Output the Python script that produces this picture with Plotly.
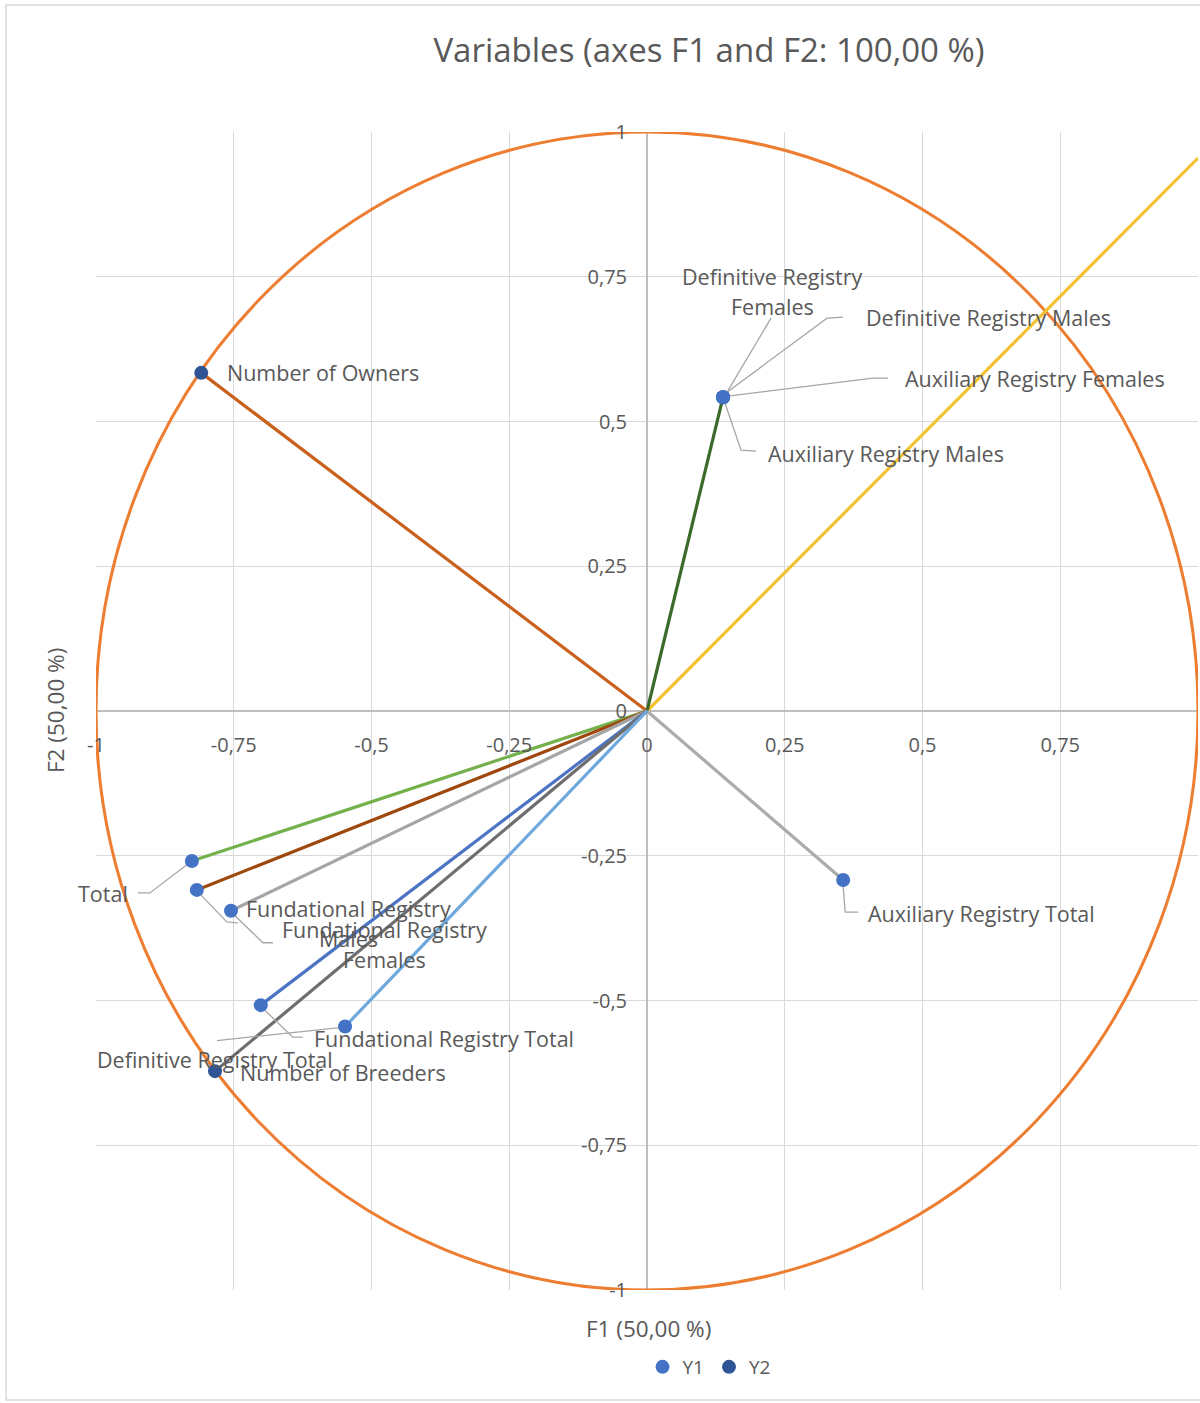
import plotly.graph_objects as go

# ---- Correlation circle data (F1, F2 coordinates) ----
variables = [
    "Number of Owners",
    "Definitive Registry Females",
    "Definitive Registry Males",
    "Auxiliary Registry Females",
    "Auxiliary Registry Males",
    "Auxiliary Registry Total",
    "Total",
    "Fundational Registry Males",
    "Fundational Registry Females",
    "Fundational Registry Total",
    "Definitive Registry Total",
    "Number of Breeders",
]
f1 = [-0.809, 0.138, 0.138, 0.138, 0.138, 0.356, -0.826, -0.817, -0.755, -0.701, -0.548, -0.784]
f2 = [0.584, 0.542, 0.542, 0.542, 0.542, -0.292, -0.259, -0.309, -0.345, -0.508, -0.545, -0.622]
group = ["Y2", "Y1", "Y1", "Y1", "Y1", "Y1", "Y1", "Y1", "Y1", "Y1", "Y1", "Y2"]

# vector from the origin drawn for each variable (one extra vector leaves the frame)
vector_names = ["Number of Owners", "Definitive Registry Females", "Auxiliary Registry Total",
                "Total", "Fundational Registry Males", "Fundational Registry Females",
                "Fundational Registry Total", "Number of Breeders", "Definitive Registry Total"]
vector_colors = ["#C9601C", "#3B6A2A", "#ABABAB", "#74B04C", "#9E480E", "#A5A5A5",
                 "#4C74C4", "#6E6E6E", "#6FA8DC"]
extra_vector = (1.0, 0.955)
extra_color = "#F2C232"

tick_vals = [-1, -0.75, -0.5, -0.25, 0, 0.25, 0.5, 0.75, 1]
tick_text = ["-1", "-0,75", "-0,5", "-0,25", "0", "0,25", "0,5", "0,75", "1"]

# ---- layout geometry ----
W, H = 1200, 1403
ML, MR, MT, MB = 96, 2, 132, 113
PW, PH = W - ML - MR, H - MT - MB
SX, SY = PW / 2.0, PH / 2.0          # pixels per unit

def dx(p):
    return p / SX

def dy(p):
    return -p / SY

# label placement: (pixel offset of label anchor, anchor side, leader path offsets)
label_layout = {
    "Number of Owners": ((24, 0), "left", []),
    "Definitive Registry Females": ((49, -106), "center", [(4, -5), (48, -79)]),
    "Definitive Registry Males": ((141, -80), "left", [(4, -5), (104, -79), (120, -80)]),
    "Auxiliary Registry Females": ((180, -19), "left", [(5, -1), (150, -19), (165, -19)]),
    "Auxiliary Registry Males": ((43, 56), "left", [(2, 6), (18, 53), (33, 54)]),
    "Auxiliary Registry Total": ((23, 33), "left", [(0, 6), (2, 32), (15, 32)]),
    "Total": ((-62, 33), "right", [(-4, 3), (-42, 32), (-54, 32)]),
    "Fundational Registry Males": ((152, 34), "center", [(3, 4), (30, 32), (41, 33)]),
    "Fundational Registry Females": ((153, 34), "center", [(3, 4), (32, 32), (42, 32)]),
    "Fundational Registry Total": ((51, 33), "left", [(3, 4), (32, 32), (42, 32)]),
    "Definitive Registry Total": ((-130, 33), "center", [(-5, 1), (-113, 13), (-128, 14)]),
    "Number of Breeders": ((23, 1), "left", []),
}
label_lines = {
    "Definitive Registry Females": ["Definitive Registry", "Females"],
    "Fundational Registry Males": ["Fundational Registry", "Males"],
    "Fundational Registry Females": ["Fundational Registry", "Females"],
}

TEXT = "#595959"
FONT = "Open Sans"

fig = go.Figure()

# vectors from the origin
lookup = {v: (a, b) for v, a, b in zip(variables, f1, f2)}
fig.add_trace(go.Scatter(x=[0, extra_vector[0]], y=[0, extra_vector[1]], mode="lines",
                         line=dict(color=extra_color, width=3.2), showlegend=False,
                         hoverinfo="skip"))
for name, col in zip(vector_names, vector_colors):
    a, b = lookup[name]
    fig.add_trace(go.Scatter(x=[0, a], y=[0, b], mode="lines",
                             line=dict(color=col, width=3.2), showlegend=False,
                             hoverinfo="skip"))

# leader lines
lx, ly = [], []
for name, a, b in zip(variables, f1, f2):
    path = label_layout[name][2]
    if not path:
        continue
    for ox, oy in path:
        lx.append(a + dx(ox))
        ly.append(b + dy(oy))
    lx.append(None)
    ly.append(None)
fig.add_trace(go.Scatter(x=lx, y=ly, mode="lines", line=dict(color="#A6A6A6", width=1.3),
                         showlegend=False, hoverinfo="skip"))

# points, one trace per group
for g, col in [("Y1", "#4472C4"), ("Y2", "#2F5597")]:
    xs = [a for a, gg in zip(f1, group) if gg == g]
    ys = [b for b, gg in zip(f2, group) if gg == g]
    ns = [v for v, gg in zip(variables, group) if gg == g]
    fig.add_trace(go.Scatter(x=xs, y=ys, mode="markers", name=g, text=ns,
                             marker=dict(color=col, size=14)))

# data labels
for name, a, b in zip(variables, f1, f2):
    (ox, oy), side, _ = label_layout[name]
    lines = label_lines.get(name, [name])
    n = len(lines)
    for i, line in enumerate(lines):
        off = oy + (i - (n - 1) / 2.0) * 30
        fig.add_annotation(x=a, y=b, xref="x", yref="y", text=line, showarrow=False,
                           xshift=ox, yshift=-off, xanchor=side, yanchor="middle",
                           font=dict(family=FONT, size=21.5, color=TEXT))

# unit circle
fig.add_shape(type="circle", xref="x", yref="y", x0=-1, y0=-1, x1=1, y1=1,
              line=dict(color="#ED7D31", width=3), layer="between")

# chart frame
fig.add_shape(type="rect", xref="paper", yref="paper",
              x0=(6 - ML) / PW, x1=1.03, y0=-(1400 - (H - MB)) / PH, y1=((H - MB) - 5) / PH,
              line=dict(color="#D9D9D9", width=1.5), layer="below")

axis_common = dict(range=[-1, 1], tickvals=tick_vals, ticktext=tick_text,
                   showgrid=True, gridcolor="#D9D9D9", gridwidth=1.3,
                   zeroline=True, zerolinecolor="#BFBFBF", zerolinewidth=1.6,
                   showline=False, ticks="", anchor="free", position=0.5,
                   tickfont=dict(family=FONT, size=20, color=TEXT),
                   fixedrange=True)

fig.update_layout(
    width=W, height=H,
    margin=dict(l=ML, r=MR, t=MT, b=MB),
    paper_bgcolor="white", plot_bgcolor="white",
    xaxis=dict(**axis_common, ticklabelstandoff=20),
    yaxis=dict(**axis_common, ticklabelstandoff=20),
    title=dict(text="Variables (axes F1 and F2: 100,00 %)", x=709 / W, xanchor="center",
               y=1 - 50 / H, yanchor="middle",
               font=dict(family=FONT, size=33, color=TEXT)),
    legend=dict(orientation="h", x=(709 - ML) / PW, xanchor="center",
                y=-(1367 - (H - MB)) / PH, yanchor="middle",
                font=dict(family=FONT, size=19, color=TEXT), itemwidth=30,
                bgcolor="rgba(0,0,0,0)"),
    showlegend=True,
)

fig.add_annotation(text="F1 (50,00 %)", xref="paper", yref="paper", x=(648 - ML) / PW,
                   y=-(1328 - (H - MB)) / PH, showarrow=False, xanchor="center",
                   yanchor="middle", font=dict(family=FONT, size=22.5, color=TEXT))
fig.add_annotation(text="F2 (50,00 %)", xref="paper", yref="paper", x=(55 - ML) / PW,
                   y=0.5, showarrow=False, textangle=-90, xanchor="center",
                   yanchor="middle", font=dict(family=FONT, size=22.5, color=TEXT))

fig.write_html("out.html")
